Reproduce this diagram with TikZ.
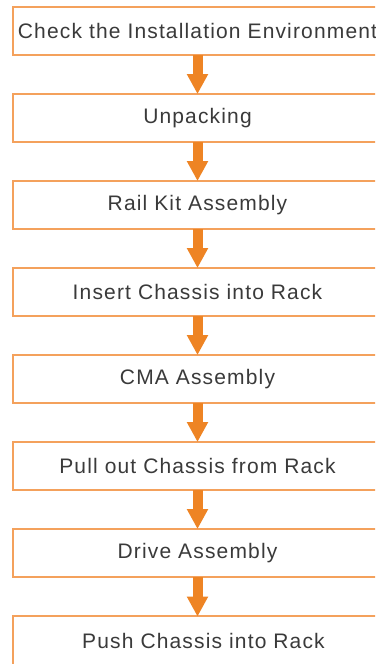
\documentclass[tikz,border=0pt]{standalone}
\usepackage{fontspec}
\setmainfont{Liberation Sans}[LetterSpace=5.5]
\usetikzlibrary{arrows.meta}
\definecolor{boxline}{HTML}{F4A15C}
\definecolor{arrowc}{HTML}{EE8424}
\definecolor{txt}{HTML}{3A3A3A}
\begin{document}
\begin{tikzpicture}[x=1pt,y=-1pt,
  stepbox/.style={minimum width=368pt,minimum height=48.5pt,
    inner sep=0pt,text=txt,font=\fontsize{21}{24}\selectfont},
  frame/.style={draw=boxline,line width=2pt},
  flow/.style={draw=arrowc,fill=arrowc,line width=10pt,
    -{Triangle[length=20pt,width=20pt]},shorten >=-0.5pt}]
\useasboundingbox (0,0) rectangle (375,664);
\clip (0,0) rectangle (375,664);
\fill[white] (0,0) rectangle (375,664);
\node[stepbox] (s1) at (197.5,31) {Check the Installation Environment};
\node[stepbox] (s2) at (197.5,118) {Unpacking};
\node[stepbox] (s3) at (197.5,205) {Rail Kit Assembly};
\node[stepbox] (s4) at (197.5,292) {Insert Chassis into Rack};
\node[stepbox] (s5) at (197.5,379) {CMA Assembly};
\node[stepbox] (s6) at (197.5,466) {Pull out Chassis from Rack};
\node[stepbox] (s7) at (197.5,553) {Drive Assembly};
\node[stepbox] (s8) at (197.5,640.5) {\hspace*{12pt}Push Chassis into Rack};
\foreach \s in {s1,s2,s3,s4,s5,s6,s7,s8}
  \draw[frame] (\s.north west) rectangle ([xshift=30pt]\s.south east);
\foreach \a/\b in {s1/s2,s2/s3,s3/s4,s4/s5,s5/s6,s6/s7,s7/s8}
  \draw[flow] (\a.south) -- (\b.north);
\end{tikzpicture}
\end{document}
